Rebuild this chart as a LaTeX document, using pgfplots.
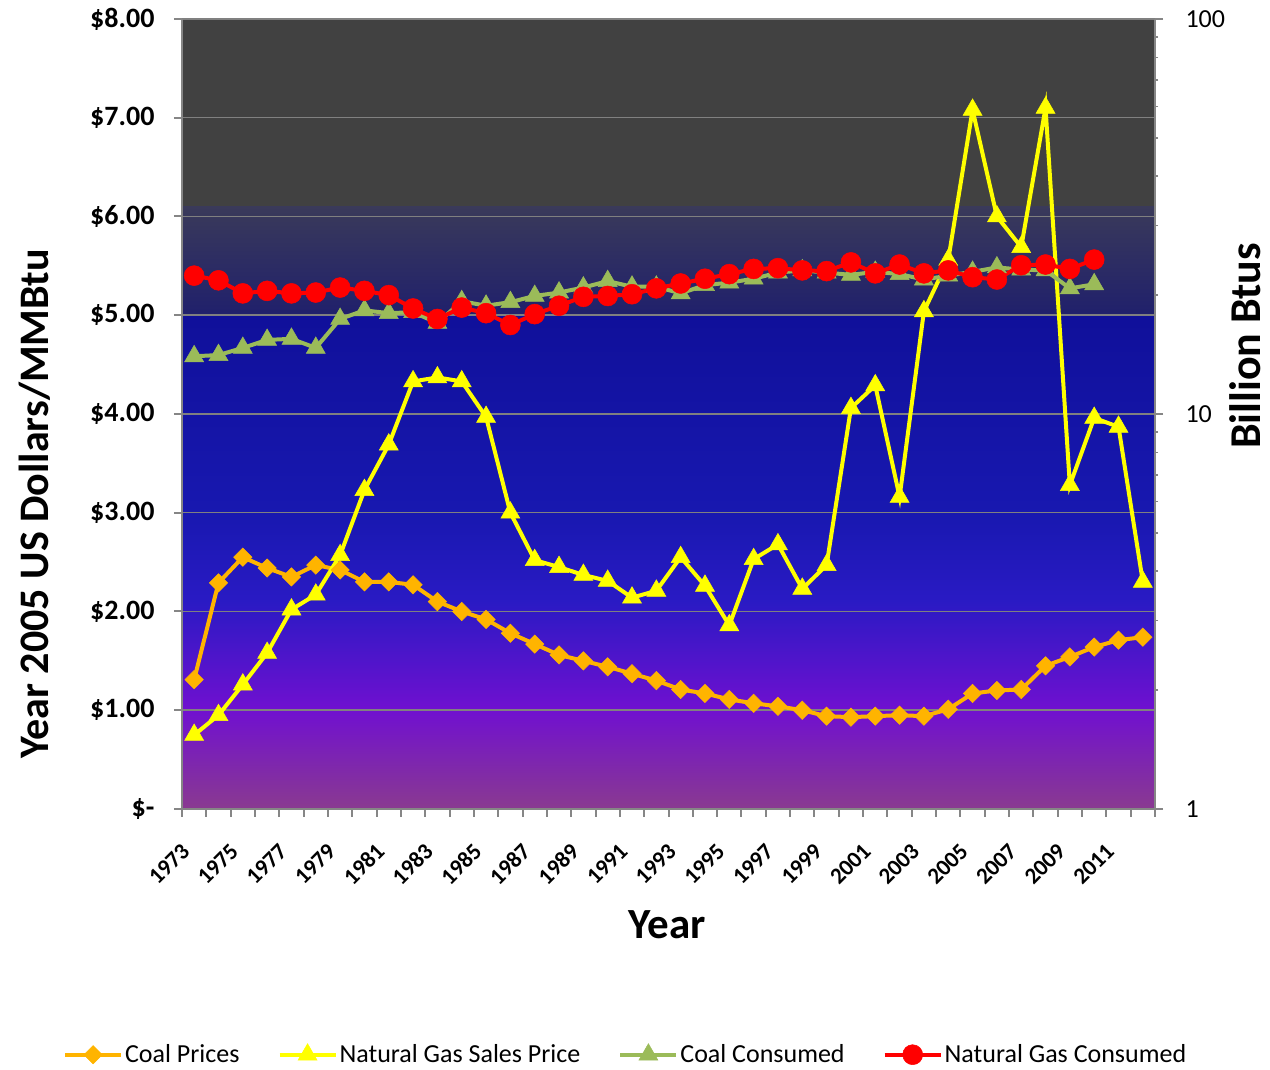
\documentclass[border=0pt]{standalone}
\usepackage{pgfplots}
\pgfplotsset{compat=1.18}
\usepackage{fontspec}
\setmainfont{Carlito}
\definecolor{coalc}{RGB}{255,180,0}
\definecolor{gasc}{RGB}{255,255,0}
\definecolor{coalcons}{RGB}{155,187,89}
\definecolor{gascons}{RGB}{255,0,0}
\definecolor{axgray}{RGB}{134,134,134}
\definecolor{gridgray}{RGB}{128,128,128}
\definecolor{bgA}{RGB}{65,65,65}
\definecolor{bgB1}{RGB}{58,58,90}
\definecolor{bgB2}{RGB}{32,32,108}
\definecolor{bgC1}{RGB}{16,16,154}
\definecolor{bgC2}{RGB}{24,24,176}
\definecolor{bgD2}{RGB}{42,26,196}
\definecolor{bgE1}{RGB}{74,16,204}
\definecolor{bgE2}{RGB}{112,16,208}
\definecolor{bgF1}{RGB}{126,40,176}
\definecolor{bgF2}{RGB}{138,58,144}
\pgfplotsset{
  common/.style={at={(0,0)}, anchor=south west, width=973pt, height=790pt,
    scale only axis, xmin=1972.5, xmax=2012.5},
}
\begin{document}
\begin{tikzpicture}
\path[use as bounding box] (-182pt,-261pt) rectangle (1088pt,809pt);
% background
\begin{axis}[common, hide axis, ymin=0, ymax=8]
\fill[bgA] (1972.5,6.1) rectangle (2012.5,8);
\shade[top color=bgB1, bottom color=bgB2] (1972.5,5) rectangle (2012.5,6.1);
\shade[top color=bgC1, bottom color=bgC2] (1972.5,3) rectangle (2012.5,5.005);
\shade[top color=bgC2, bottom color=bgD2] (1972.5,2.1) rectangle (2012.5,3.005);
\shade[top color=bgD2, middle color=bgE1, bottom color=bgE2] (1972.5,1.0) rectangle (2012.5,2.105);
\shade[top color=bgE2, middle color=bgF1, bottom color=bgF2] (1972.5,0) rectangle (2012.5,1.005);
\end{axis}
% left axis
\begin{axis}[common, ymin=0, ymax=8,
  axis x line*=bottom, axis y line*=left,
  axis line style={axgray, line width=2pt},
  tick align=outside, major tick length=8pt, minor tick length=8pt,
  ytick={0,1,...,8},
  yticklabels={\$-\hspace{15pt},\$1.00,\$2.00,\$3.00,\$4.00,\$5.00,\$6.00,\$7.00,\$8.00},
  yticklabel style={font=\bfseries\fontsize{28}{28}\selectfont, xshift=-16pt},
  major y tick style={axgray, line width=2pt},
  xtick={1973,1975,...,2011},
  xticklabels={1973,1975,1977,1979,1981,1983,1985,1987,1989,1991,1993,1995,1997,1999,2001,2003,2005,2007,2009,2011},
  major x tick style={draw=none},
  minor xtick={1972.5,1973.5,...,2012.6},
  minor x tick style={axgray, line width=2pt},
  xticklabel style={font=\bfseries\fontsize{23}{23}\selectfont, xshift=-6pt, yshift=-28pt, rotate=45, anchor=east},
  ymajorgrids, major grid style={gridgray, line width=1.5pt},
  /pgf/number format/assume math mode=true,
]
\addplot[coalc, line width=4pt, mark=square*, mark size=6.5pt, mark options={rotate=45, solid, line width=0.5pt}] coordinates {
(1973,1.31)(1974,2.29)(1975,2.55)(1976,2.44)(1977,2.35)(1978,2.47)(1979,2.42)(1980,2.30)(1981,2.30)(1982,2.27)(1983,2.10)(1984,2.00)(1985,1.92)(1986,1.78)(1987,1.67)(1988,1.56)(1989,1.50)(1990,1.44)(1991,1.37)(1992,1.30)(1993,1.21)(1994,1.17)(1995,1.11)(1996,1.07)(1997,1.04)(1998,1.00)(1999,0.94)(2000,0.93)(2001,0.94)(2002,0.95)(2003,0.94)(2004,1.01)(2005,1.17)(2006,1.20)(2007,1.21)(2008,1.45)(2009,1.54)(2010,1.64)(2011,1.71)(2012,1.74)};
\addplot[gasc, line width=4pt, mark=triangle*, mark size=11pt, mark options={solid, line width=0.5pt}] coordinates {
(1973,0.75)(1974,0.95)(1975,1.26)(1976,1.58)(1977,2.02)(1978,2.17)(1979,2.57)(1980,3.23)(1981,3.69)(1982,4.33)(1983,4.37)(1984,4.33)(1985,3.97)(1986,3.00)(1987,2.52)(1988,2.45)(1989,2.37)(1990,2.31)(1991,2.14)(1992,2.21)(1993,2.55)(1994,2.26)(1995,1.86)(1996,2.53)(1997,2.68)(1998,2.23)(1999,2.47)(2000,4.06)(2001,4.29)(2002,3.16)(2003,5.04)(2004,5.56)(2005,7.08)(2006,6.00)(2007,5.69)(2008,7.10)(2009,3.28)(2010,3.96)(2011,3.87)(2012,2.30)};
\end{axis}
% right axis
\begin{axis}[common, ymode=log, ymin=1, ymax=100,
  axis x line=none, axis y line*=right,
  axis line style={axgray, line width=2pt},
  tick align=outside, major tick length=8pt, minor tick length=3pt,
  ytick={1,10,100}, yticklabels={1,10,100},
  major y tick style={axgray, line width=2pt},
  minor y tick style={axgray, line width=1.5pt},
  yticklabel style={font=\fontsize{26}{26}\selectfont, xshift=19pt},
  legend style={at={(axis description cs:0.456,-0.311)}, anchor=center, draw=none, fill=none,
    font=\fontsize{26}{26}\selectfont, legend columns=4,
    /tikz/every even column/.append style={column sep=36pt}},
  legend image code/.code={\draw[mark repeat=2, mark phase=2] plot coordinates {(0pt,0pt) (28pt,0pt) (56pt,0pt)};},
]
\addlegendimage{coalc, line width=4pt, mark=square*, mark size=6.5pt, mark options={rotate=45, solid, line width=0.5pt}}
\addlegendentry{Coal Prices}
\addlegendimage{gasc, line width=4pt, mark=triangle*, mark size=11pt, mark options={solid, line width=0.5pt}}
\addlegendentry{Natural Gas Sales Price}
\addplot[coalcons, line width=4pt, mark=triangle*, mark size=11pt, mark options={solid, line width=0.5pt}] coordinates {
(1973,14.0)(1974,14.1)(1975,14.7)(1976,15.4)(1977,15.5)(1978,14.7)(1979,17.4)(1980,18.3)(1981,18.0)(1982,18.1)(1983,17.0)(1984,19.3)(1985,18.8)(1986,19.2)(1987,19.9)(1988,20.3)(1989,20.9)(1990,21.7)(1991,21.0)(1992,21.0)(1993,20.2)(1994,21.2)(1995,21.5)(1996,22.0)(1997,22.8)(1998,23.1)(1999,22.8)(2000,22.5)(2001,22.9)(2002,22.6)(2003,21.9)(2004,22.4)(2005,22.9)(2006,23.5)(2007,23.2)(2008,23.1)(2009,20.8)(2010,21.3)};
\addlegendentry{Coal Consumed}
\addplot[gascons, line width=4pt, mark=*, mark size=10pt, mark options={solid, line width=0.5pt}] coordinates {
(1973,22.4)(1974,21.8)(1975,20.2)(1976,20.5)(1977,20.2)(1978,20.3)(1979,20.9)(1980,20.5)(1981,20.0)(1982,18.5)(1983,17.4)(1984,18.6)(1985,18.0)(1986,16.8)(1987,17.9)(1988,18.8)(1989,19.8)(1990,19.9)(1991,20.1)(1992,20.8)(1993,21.4)(1994,22.0)(1995,22.6)(1996,23.3)(1997,23.4)(1998,23.1)(1999,23.0)(2000,24.2)(2001,22.7)(2002,23.9)(2003,22.7)(2004,23.1)(2005,22.2)(2006,21.9)(2007,23.8)(2008,23.9)(2009,23.3)(2010,24.6)};
\addlegendentry{Natural Gas Consumed}
\end{axis}
\node[rotate=90, inner sep=0pt, font=\bfseries\fontsize{42}{42}\selectfont] at (-147pt,305pt) {Year 2005 US Dollars/MMBtu};
\node[rotate=90, inner sep=0pt, font=\bfseries\fontsize{44}{44}\selectfont] at (1063pt,463pt) {Billion Btus};
\node[inner sep=0pt, font=\bfseries\fontsize{43}{43}\selectfont] at (485pt,-116pt) {Year};
\end{tikzpicture}
\end{document}
